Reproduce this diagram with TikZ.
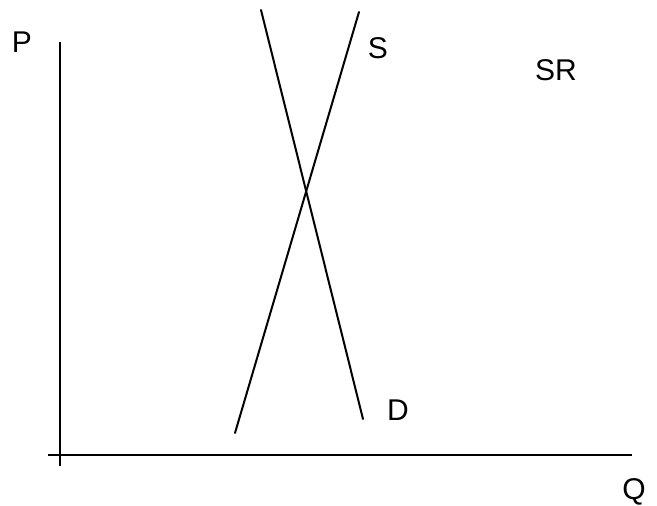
\documentclass[tikz,border=0pt]{standalone}
\usepackage{fontspec}
\setmainfont{Liberation Sans}
\begin{document}
\begin{tikzpicture}[x=1pt,y=-1pt,
  axis/.style={line width=2pt,black},
  curve/.style={line width=2pt,black,line cap=round},
  lbl/.style={font=\fontsize{30}{32}\selectfont,inner sep=0pt}]
\useasboundingbox (0,0) rectangle (657,506);
\fill[white] (0,0) rectangle (657,506);
% axes
\coordinate (ytop) at (60,42);
\coordinate (ybot) at (60,466);
\coordinate (xleft) at (48,455);
\coordinate (xright) at (632,455);
\draw[axis] (ytop) -- (ybot);
\draw[axis] (xleft) -- (xright);
% supply and demand
\coordinate (s1) at (235,433);
\coordinate (s2) at (359,12);
\coordinate (d1) at (261,10);
\coordinate (d2) at (363,419);
\draw[curve] (s1) -- (s2);
\draw[curve] (d1) -- (d2);
% labels
\node[lbl] (P) at (22,42) {P};
\node[lbl] (S) at (378,48) {S};
\node[lbl] (SR) at (556,70) {SR};
\node[lbl] (D) at (398,410) {D};
\node[lbl] (Q) at (634,492) {Q};
\end{tikzpicture}
\end{document}
